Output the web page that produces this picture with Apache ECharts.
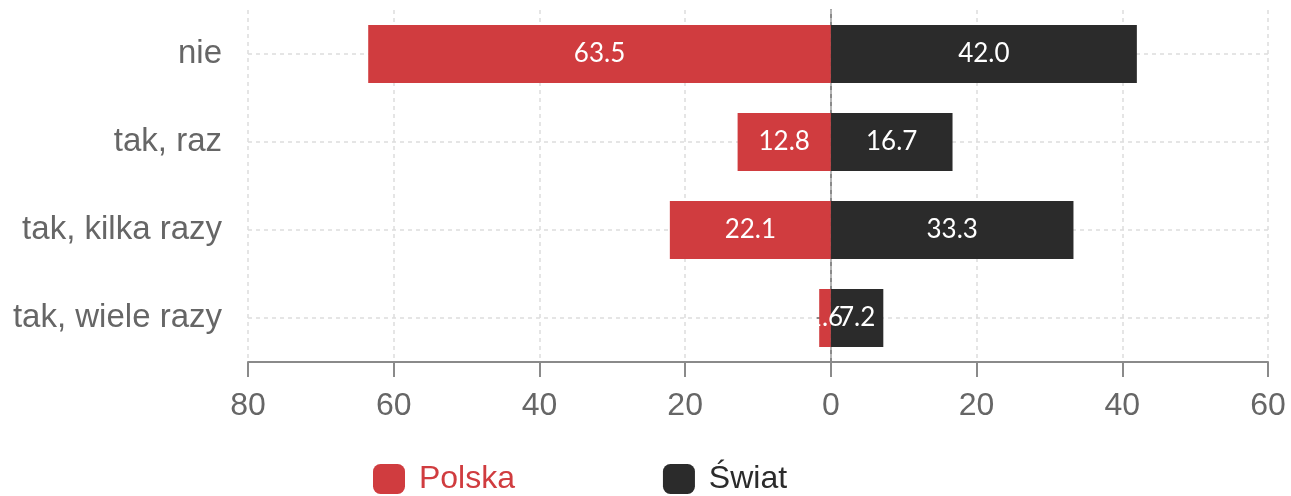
<!DOCTYPE html>
<html>
<head>
<meta charset="utf-8">
<script src="https://cdn.jsdelivr.net/npm/echarts@6/dist/echarts.min.js"></script>
<style>
  html, body { margin: 0; padding: 0; background: #fff; }
  #chart { width: 1291px; height: 496px; }
</style>
</head>
<body>
<div id="chart"></div>
<script>
const categories = ['nie', 'tak, raz', 'tak, kilka razy', 'tak, wiele razy'];
const polska = [63.5, 12.8, 22.1, 1.6];
const swiat = [42.0, 16.7, 33.3, 7.2];
const seriesNames = ['Polska', 'Świat'];
const xMin = -80, xMax = 60, xStep = 20;

const RED = '#d03c3f';
const DARK = '#2b2b2b';
const AXIS = '#8a8a8a';
const LABEL = '#666666';
const SANS = '"Liberation Sans", Arial, sans-serif';

const chart = echarts.init(document.getElementById('chart'), null, { renderer: 'canvas' });

const labelCfg = {
  show: true,
  position: 'inside',
  color: '#ffffff',
  fontFamily: 'Lato, sans-serif',
  fontSize: 26,
  formatter: p => Math.abs(p.value).toFixed(1)
};

chart.setOption({
  animation: false,
  backgroundColor: '#ffffff',
  grid: { left: 248, right: 23, top: 10, bottom: 134 },
  legend: {
    left: 368,
    top: 458,
    itemWidth: 32,
    itemHeight: 30,
    itemGap: 148,
    icon: 'roundRect',
    formatter: n => ' ' + n,
    textStyle: { fontFamily: SANS, fontSize: 32 },
    data: [
      { name: seriesNames[0], textStyle: { color: RED } },
      { name: seriesNames[1], textStyle: { color: DARK } }
    ]
  },
  xAxis: {
    type: 'value',
    min: xMin, max: xMax, interval: xStep,
    axisLine: { show: true, lineStyle: { color: AXIS, width: 2 } },
    axisTick: { show: true, length: 15, lineStyle: { color: AXIS, width: 2 } },
    axisLabel: {
      color: LABEL, fontFamily: SANS, fontSize: 32, margin: 28,
      formatter: v => String(Math.abs(v))
    },
    splitLine: { show: true, lineStyle: { color: '#dddddd', type: [4, 4], width: 1.5 } }
  },
  yAxis: {
    type: 'category',
    inverse: true,
    data: categories,
    axisLine: { show: true, lineStyle: { color: AXIS, width: 2 } },
    axisTick: { show: true, alignWithLabel: true, length: 15, lineStyle: { color: AXIS, width: 2 } },
    axisLabel: { color: LABEL, fontFamily: SANS, fontSize: 33, margin: 26 },
    splitLine: { show: true, alignWithLabel: true, lineStyle: { color: '#dddddd', type: [4, 4], width: 1.5 } }
  },
  series: [
    {
      name: seriesNames[0],
      type: 'bar',
      stack: 'total',
      barWidth: 58,
      itemStyle: { color: RED },
      label: labelCfg,
      data: polska.map(v => -v),
      markLine: {
        silent: true,
        symbol: 'none',
        label: { show: false },
        lineStyle: { color: '#c4c4c4', type: [4, 4], width: 1.5 },
        data: [{ xAxis: 0 }],
        z: 1
      }
    },
    {
      name: seriesNames[1],
      type: 'bar',
      stack: 'total',
      barWidth: 58,
      itemStyle: { color: DARK },
      label: labelCfg,
      data: swiat
    }
  ]
});
</script>
</body>
</html>
